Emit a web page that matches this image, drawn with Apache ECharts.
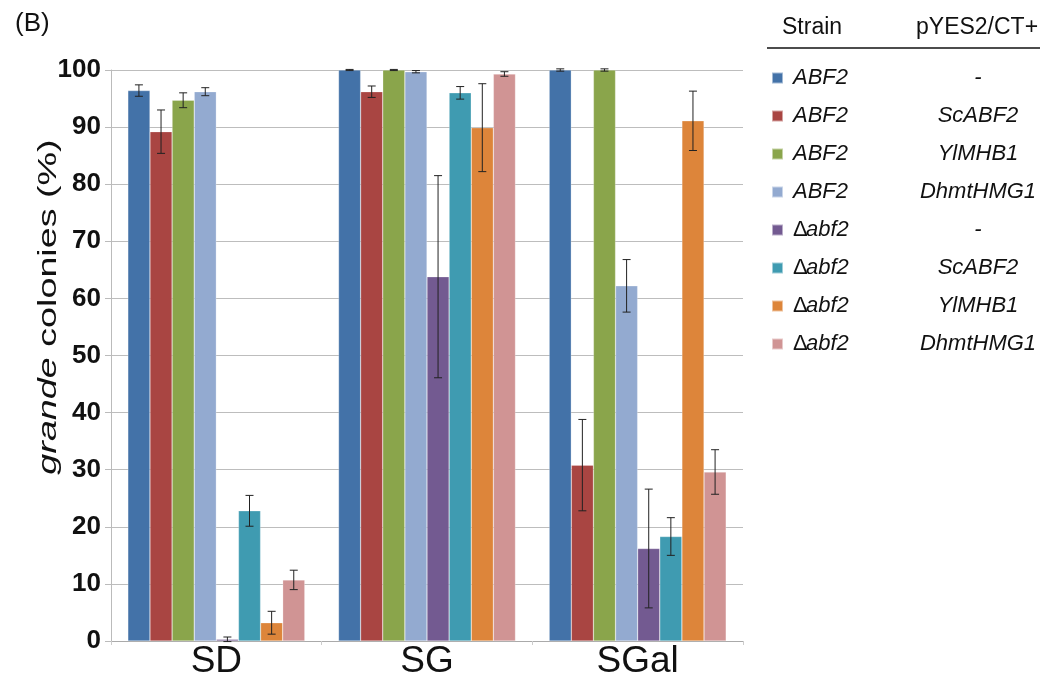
<!DOCTYPE html>
<html>
<head>
<meta charset="utf-8">
<script src="https://cdn.jsdelivr.net/npm/echarts@6/dist/echarts.min.js"></script>
<style>
  html, body { margin: 0; padding: 0; background: #fff; }
  #main { width: 1046px; height: 683px; }
</style>
</head>
<body>
<div id="main"></div>
<script>
// media
var categories = ['SD', 'SG', 'SGal'];
// series names are "strain|plasmid"
var seriesNames = [
  'ABF2|-', 'ABF2|ScABF2', 'ABF2|YlMHB1', 'ABF2|DhmtHMG1',
  'Δabf2|-', 'Δabf2|ScABF2', 'Δabf2|YlMHB1', 'Δabf2|DhmtHMG1'
];
var colors = ['#4372a8', '#a94542', '#8aa54b', '#93aad0', '#735a91', '#3f9bb1', '#dd853a', '#d09494'];

// mean values per series (SD, SG, SGal)
var abf2Empty   = [96.4, 100, 100];
var abf2Sc      = [89.2, 96.2, 30.8];
var abf2Yl      = [94.7, 100, 100];
var abf2Dh      = [96.2, 99.7, 62.2];
var dabf2Empty  = [0.3, 63.8, 16.2];
var dabf2Sc     = [22.8, 96.0, 18.3];
var dabf2Yl     = [3.2, 89.9, 91.1];
var dabf2Dh     = [10.7, 99.3, 29.6];

// error bar half-widths
var errAbf2Empty  = [1.0, 0.1, 0.2];
var errAbf2Sc     = [3.8, 1.0, 8.0];
var errAbf2Yl     = [1.3, 0.1, 0.2];
var errAbf2Dh     = [0.7, 0.2, 4.6];
var errDabf2Empty = [0.4, 17.7, 10.4];
var errDabf2Sc    = [2.7, 1.1, 3.3];
var errDabf2Yl    = [2.0, 7.7, 5.2];
var errDabf2Dh    = [1.7, 0.4, 3.9];

var yTicks = [0, 10, 20, 30, 40, 50, 60, 70, 80, 90, 100];

var values = [abf2Empty, abf2Sc, abf2Yl, abf2Dh, dabf2Empty, dabf2Sc, dabf2Yl, dabf2Dh];
var errors = [errAbf2Empty, errAbf2Sc, errAbf2Yl, errAbf2Dh, errDabf2Empty, errDabf2Sc, errDabf2Yl, errDabf2Dh];

var gapRatio = 0.16;
var nSeries = seriesNames.length;
var font = 'Liberation Sans';

var chart = echarts.init(document.getElementById('main'));

function errorRenderer(idx) {
  return function (params, api) {
    var ci = api.value(0);
    var mean = api.value(1);
    var err = api.value(2);
    var center = api.coord([ci, 0]);
    var band = api.size([1, 0])[0];
    var groupW = band * (1 - gapRatio);
    var barW = groupW / nSeries;
    var x = center[0] - groupW / 2 + barW * (idx + 0.5);
    var top = api.coord([ci, Math.min(mean + err, 100.3)])[1];
    var bot = api.coord([ci, mean - err])[1];
    var cap = 4;
    var style = { stroke: '#222', lineWidth: 1 };
    return {
      type: 'group',
      children: [
        { type: 'line', shape: { x1: x, y1: top, x2: x, y2: bot }, style: style },
        { type: 'line', shape: { x1: x - cap, y1: top, x2: x + cap, y2: top }, style: style },
        { type: 'line', shape: { x1: x - cap, y1: bot, x2: x + cap, y2: bot }, style: style }
      ]
    };
  };
}

var series = [];
seriesNames.forEach(function (name, i) {
  series.push({
    name: name,
    type: 'bar',
    data: values[i],
    barGap: '0%',
    barCategoryGap: (gapRatio * 100) + '%',
    itemStyle: { color: colors[i], borderColor: 'rgba(255,255,255,0.5)', borderWidth: 0.5 },
    emphasis: { disabled: true }
  });
});
seriesNames.forEach(function (name, i) {
  series.push({
    type: 'custom',
    renderItem: errorRenderer(i),
    data: values[i].map(function (v, c) { return [c, v, errors[i][c]]; }),
    z: 10,
    silent: true
  });
});

var option = {
  animation: false,
  color: colors,
  grid: { left: 111, right: 303, top: 70, bottom: 42 },
  xAxis: {
    type: 'category',
    data: categories,
    axisLine: { lineStyle: { color: '#aaa' } },
    axisTick: { show: true, length: 4, lineStyle: { color: '#ccc' } },
    axisLabel: { color: '#111', fontSize: 37, fontFamily: font, margin: 2 }
  },
  yAxis: {
    type: 'value',
    min: 0,
    max: 100,
    interval: 10,
    axisLine: { show: true, lineStyle: { color: '#bbb' } },
    axisTick: { show: true, length: 6, lineStyle: { color: '#bbb' } },
    axisLabel: {
      color: '#111', fontSize: 26, fontWeight: 'bold', fontFamily: font, margin: 10,
      formatter: function (v) { return yTicks.indexOf(v) >= 0 ? String(v) : ''; }
    },
    splitLine: { lineStyle: { color: '#bdbdbd' } }
  },
  legend: {
    orient: 'vertical',
    left: 766,
    top: 62,
    itemWidth: 11,
    itemHeight: 11,
    itemGap: 16,
    icon: 'rect',
    selectedMode: false,
    data: seriesNames,
    formatter: function (name) {
      var parts = name.split('|');
      var strain = parts[0];
      var strainTxt = strain.charAt(0) === 'Δ' ? '{d|Δ}{sd|' + strain.slice(1) + '}' : '{s|' + strain + '}';
      return strainTxt + '{p|' + parts[1] + '}';
    },
    textStyle: {
      rich: {
        d: { fontSize: 22, fontFamily: font, color: '#111', width: 13, padding: [0, 0, 0, 5], lineHeight: 22 },
        sd: { fontSize: 22, fontFamily: font, fontStyle: 'italic', color: '#111', width: 112, lineHeight: 22 },
        s: { fontSize: 22, fontFamily: font, fontStyle: 'italic', color: '#111', width: 125, padding: [0, 0, 0, 5], lineHeight: 22 },
        p: { fontSize: 22, fontFamily: font, fontStyle: 'italic', color: '#111', width: 120, align: 'center', lineHeight: 22 }
      }
    }
  },
  graphic: [
    { type: 'text', left: 15, top: 11, style: { text: '(B)', fontSize: 26, fontFamily: font, fill: '#111' } },
    {
      type: 'text', x: 49, y: 307, rotation: Math.PI / 2, scaleX: 1.45,
      style: {
        text: '{i|grande} colonies (%)', align: 'center', verticalAlign: 'middle',
        fontSize: 26, fontFamily: font, fill: '#111',
        rich: { i: { fontStyle: 'italic', fontSize: 26, fontFamily: font, fill: '#111' } }
      }
    },
    { type: 'text', left: 782, top: 16, style: { text: 'Strain', fontSize: 23, fontFamily: font, fill: '#111' } },
    { type: 'text', left: 916, top: 16, style: { text: 'pYES2/CT+', fontSize: 23, fontFamily: font, fill: '#111' } },
    { type: 'line', shape: { x1: 767, y1: 48, x2: 1040, y2: 48 }, style: { stroke: '#111', lineWidth: 1.5 } }
  ],
  series: series
};

chart.setOption(option);
</script>
</body>
</html>
